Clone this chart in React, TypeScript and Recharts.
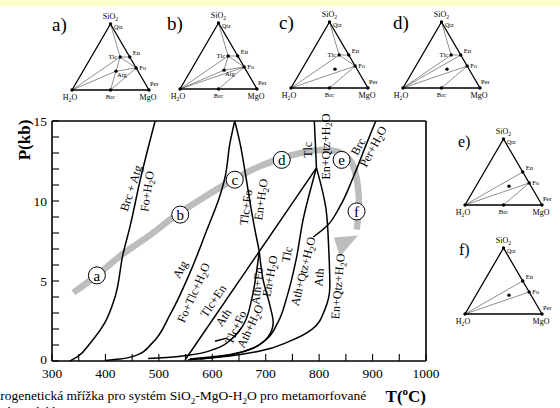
import React from 'react';
import { ComposedChart, Line, Scatter, XAxis, YAxis } from 'recharts';

const SERIF = "'Liberation Serif', 'Times New Roman', serif";

// ---- P-T grid, T in °C, P in kbar ----
const xTicks = [300, 350, 400, 450, 500, 550, 600, 650, 700, 750, 800, 850, 900, 950, 1000];
const xLabelled = [300, 400, 500, 600, 700, 800, 900, 1000];
const yTicks = [0, 1, 2, 3, 4, 5, 6, 7, 8, 9, 10, 11, 12, 13, 14, 15];
const yLabelled = [0, 5, 10, 15];

const pts = (a: number[][]) => a.map(([t, p]) => ({ t, p }));

const brcAtgFo = pts([[493, 15], [465, 11.3], [446, 8.4], [433, 6.7], [418, 4.0], [399, 2.4], [371, 1.1], [349, 0.3], [334, 0]]);
const atgFoTlc = pts([[642, 15], [633, 13.6], [624, 11.5], [614, 10.3], [590, 8.2], [558, 5.5], [521, 2.9], [487, 1.1], [461, 0.4], [427, 0.12], [400, 0.03]]);
const tlcFoEn = pts([[642, 15], [652, 13.6], [662, 11.7], [672, 9.65], [681, 8.0], [688, 6.85]]);
const tlcEnAth = pts([[795, 12.07], [549, 0.06]]);
const tlcEnQtzHi = pts([[791, 15], [795, 12.07]]);
const tlcFoAth = pts([[688, 6.85], [682, 5.4], [674, 3.9], [657, 2.2], [637, 1.4], [605, 0.75], [558, 0.37], [515, 0.22], [480, 0.15]]);
const shortSeg = pts([[627, 1.43], [605, 1.24]]);
const athFoEn = pts([[688, 6.85], [695, 5.1], [708, 3.44], [714, 2.41], [704, 1.49], [680, 0.87], [642, 0.44], [596, 0.19], [555, 0.08]]);
const tlcAthQtz = pts([[795, 12.07], [770, 8.84], [757, 6.35], [740, 4.04], [723, 2.43], [697, 1.24], [661, 0.62], [614, 0.31], [558, 0.12]]);
const athEnQtz = pts([[795, 12.07], [813, 9.46], [818, 6.97], [820, 4.67], [811, 3.24], [787, 1.99], [745, 1.24], [689, 0.62], [633, 0.31], [577, 0.12]]);
const brcPer = pts([[906, 15], [889, 13.6], [864, 11.5], [839, 9.66], [814, 8.42], [789, 7.75]]);

const curves = [brcAtgFo, atgFoTlc, tlcFoEn, tlcEnAth, tlcEnQtzHi, tlcFoAth, shortSeg, athFoEn, tlcAthQtz, athEnQtz, brcPer];

// grey path a -> f
const bandPath = pts([[340, 4.27], [384, 5.31], [433, 6.78], [483, 7.8], [527, 9.04], [577, 10.08], [627, 11.12], [683, 12.15], [745, 12.88], [808, 13.3], [848, 13.0], [864, 12.36], [873, 11.12], [876, 9.46], [870, 8.22]]);
const bandHead = pts([[852, 7.4]]);

const stages = [
  { t: 384, p: 5.35, s: 'a' },
  { t: 540, p: 9.15, s: 'b' },
  { t: 642, p: 11.33, s: 'c' },
  { t: 730, p: 12.57, s: 'd' },
  { t: 842, p: 12.57, s: 'e' },
  { t: 870, p: 9.35, s: 'f' },
];

const curveLabels = [
  { t: 448, p: 10.8, text: 'Brc + Atg', angle: -72 },
  { t: 478, p: 10.6, text: 'Fo+H2O', angle: -82 },
  { t: 663, p: 9.6, text: 'Tlc+Fo', angle: -82 },
  { t: 691, p: 10.1, text: 'En+H2O', angle: -82 },
  { t: 540, p: 5.72, text: 'Atg', angle: -62 },
  { t: 565, p: 4.27, text: 'Fo+Tlc+H2O', angle: -66 },
  { t: 602, p: 3.75, text: 'Tlc+En', angle: -56 },
  { t: 621, p: 2.72, text: 'Ath', angle: -56 },
  { t: 644, p: 2.1, text: 'Tlc+Fo', angle: -65 },
  { t: 671, p: 2.18, text: 'Ath+H2O', angle: -65 },
  { t: 684, p: 4.69, text: 'Ath+Fo', angle: -84 },
  { t: 708, p: 5.31, text: 'En+H2O', angle: -80 },
  { t: 740, p: 6.66, text: 'Tlc', angle: -78 },
  { t: 770, p: 5.6, text: 'Ath+Qtz+H2O', angle: -76 },
  { t: 800, p: 5.23, text: 'Ath', angle: -85 },
  { t: 835, p: 4.67, text: 'En+Qtz+H2O', angle: -85 },
  { t: 779, p: 13.2, text: 'Tlc', angle: -90 },
  { t: 812, p: 13.4, text: 'En+Qtz+H2O', angle: -90 },
  { t: 873, p: 13.4, text: 'Brc', angle: -62 },
  { t: 901, p: 13.4, text: 'Per+H2O', angle: -62 },
];

// ---- ternary sketches: molar SiO2 : MgO : H2O ----
const comp: Record<string, number[]> = {
  Qtz: [1, 0, 0],
  Tlc: [4, 3, 1],
  En: [1, 1, 0],
  Fo: [1, 2, 0],
  Atg: [2, 3, 2],
  Brc: [0, 1, 1],
  Per: [0, 1, 0],
  H2O: [0, 0, 1],
};

const tiesA = [['Qtz', 'Tlc'], ['Tlc', 'En'], ['Tlc', 'Fo'], ['Tlc', 'Atg'], ['Atg', 'Fo'], ['Atg', 'Brc'], ['Brc', 'Fo'], ['H2O', 'Tlc'], ['H2O', 'Atg']];
const tiesB = [['Qtz', 'Tlc'], ['Tlc', 'En'], ['Tlc', 'Fo'], ['Tlc', 'Atg'], ['Atg', 'Fo'], ['H2O', 'Tlc'], ['H2O', 'Atg'], ['H2O', 'Fo'], ['Brc', 'Fo']];
const tiesC = [['Qtz', 'Tlc'], ['Tlc', 'En'], ['Tlc', 'Fo'], ['H2O', 'Tlc'], ['H2O', 'Fo'], ['Brc', 'Fo']];
const tiesD = [['Qtz', 'Tlc'], ['Tlc', 'En'], ['H2O', 'Tlc'], ['H2O', 'En'], ['H2O', 'Fo'], ['Brc', 'Fo']];
const tiesE = [['H2O', 'En'], ['H2O', 'Fo'], ['Brc', 'Fo']];
const tiesF = [['H2O', 'En'], ['H2O', 'Fo']];

const dotsAB = ['Qtz', 'Tlc', 'En', 'Fo', 'Atg', 'Brc', 'Per', 'H2O'];
const dotsE = ['Qtz', 'En', 'Fo', 'Atg', 'Brc', 'Per', 'H2O'];
const dotsF = ['Qtz', 'En', 'Fo', 'Atg', 'Per', 'H2O'];

const labelsAB = ['SiO2', 'Qtz', 'Tlc', 'En', 'Fo', 'Atg', 'Brc', 'Per', 'H2O', 'MgO'];
const labelsCD = ['SiO2', 'Qtz', 'Tlc', 'En', 'Fo', 'Brc', 'Per', 'H2O', 'MgO'];
const labelsE = ['SiO2', 'Qtz', 'En', 'Fo', 'Brc', 'Per', 'H2O', 'MgO'];
const labelsF = ['SiO2', 'Qtz', 'En', 'Fo', 'Per', 'H2O', 'MgO'];

// where each label sits relative to its phase
const labelStyle: Record<string, { at: string; dx: number; dy: number; anchor: string; fs: number }> = {
  SiO2: { at: 'Qtz', dx: 0, dy: -5, anchor: 'middle', fs: 8 },
  Qtz: { at: 'Qtz', dx: 3.5, dy: 4.5, anchor: 'start', fs: 6 },
  Tlc: { at: 'Tlc', dx: -3, dy: 2, anchor: 'end', fs: 6.5 },
  En: { at: 'En', dx: 3, dy: -2, anchor: 'start', fs: 6.5 },
  Fo: { at: 'Fo', dx: 3, dy: 2, anchor: 'start', fs: 6.5 },
  Atg: { at: 'Atg', dx: 1, dy: 6, anchor: 'start', fs: 6.5 },
  Brc: { at: 'Brc', dx: 0, dy: 9, anchor: 'middle', fs: 6.5 },
  Per: { at: 'Per', dx: 1, dy: -4, anchor: 'start', fs: 6.5 },
  H2O: { at: 'H2O', dx: -2, dy: 10, anchor: 'middle', fs: 8 },
  MgO: { at: 'Per', dx: -1, dy: 10, anchor: 'middle', fs: 8 },
};

const panels = [
  { id: 'a)', left: 56, top: 9, ties: tiesA, dots: dotsAB, labels: labelsAB },
  { id: 'b)', left: 164, top: 8, ties: tiesB, dots: dotsAB, labels: labelsAB },
  { id: 'c)', left: 275, top: 7, ties: tiesC, dots: dotsAB, labels: labelsCD },
  { id: 'd)', left: 387, top: 7, ties: tiesD, dots: dotsAB, labels: labelsCD },
  { id: 'e)', left: 449, top: 124, ties: tiesE, dots: dotsE, labels: labelsE },
  { id: 'f)', left: 449, top: 233, ties: tiesF, dots: dotsF, labels: labelsF },
];

const SQ3 = Math.sqrt(3) / 2;
function place(name: string) {
  const [s, m, w] = comp[name];
  const tot = s + m + w;
  return { x: (m + s / 2) / tot, y: (s / tot) * SQ3 };
}

// digits become subscripts (H2O, SiO2)
function chem(s: string, fs: number) {
  const parts = s.split(/(\d)/).filter(Boolean);
  let down = false;
  return parts.map((part, i) => {
    if (/^\d$/.test(part)) {
      down = true;
      return <tspan key={i} dy={fs * 0.3} fontSize={fs * 0.72}>{part}</tspan>;
    }
    const dy = down ? -fs * 0.3 : 0;
    down = false;
    return <tspan key={i} dy={dy}>{part}</tspan>;
  });
}

const tickStroke = { stroke: '#000', strokeWidth: 1.1 };

function BottomTick({ x, y, payload }: any) {
  return (
    <g>
      <line x1={x} y1={y} x2={x} y2={y - 7} {...tickStroke} />
      {xLabelled.includes(payload.value) && (
        <text x={x} y={y + 17} textAnchor="middle" fontSize={13.5} fontFamily={SERIF} fill="#000">
          {payload.value}
        </text>
      )}
    </g>
  );
}
function TopTick({ x, y }: any) {
  return <line x1={x} y1={y} x2={x} y2={y + 7} {...tickStroke} />;
}
function LeftTick({ x, y, payload }: any) {
  return (
    <g>
      <line x1={x} y1={y} x2={x + 7} y2={y} {...tickStroke} />
      {yLabelled.includes(payload.value) && (
        <text x={x - 5} y={y + (payload.value === 0 ? 2.5 : 4.5)} textAnchor="end" fontSize={13.5} fontFamily={SERIF} fill="#000">
          {payload.value}
        </text>
      )}
    </g>
  );
}
function RightTick({ x, y }: any) {
  return <line x1={x} y1={y} x2={x - 7} y2={y} {...tickStroke} />;
}

function CurveLabel({ cx, cy, payload }: any) {
  return (
    <text
      x={cx}
      y={cy}
      transform={`rotate(${payload.angle} ${cx} ${cy})`}
      textAnchor="middle"
      dominantBaseline="central"
      fontSize={12}
      fontFamily={SERIF}
      fill="#000"
    >
      {chem(payload.text, 12)}
    </text>
  );
}

function StageMark({ cx, cy, payload }: any) {
  return (
    <g>
      <circle cx={cx} cy={cy} r={8.5} fill="#fff" stroke="#000" strokeWidth={1} />
      <text x={cx} y={cy + 0.5} textAnchor="middle" dominantBaseline="central" fontSize={15} fontFamily={SERIF} fill="#000">
        {payload.s}
      </text>
    </g>
  );
}

function ArrowHead({ cx, cy }: any) {
  return <polygon points={`${cx - 7},${cy + 14} ${cx - 13},${cy - 5} ${cx + 11},${cy - 7}`} fill="#bdbdbd" />;
}

const AX = { stroke: '#000', strokeWidth: 1.6 };

function Ternary({ left, top, ties, dots, labels }: any) {
  const outline = [place('H2O'), place('Per'), place('Qtz'), place('H2O')];
  const dotData = dots.map((d: string) => place(d));
  const labelData = labels.map((l: string) => ({ ...place(labelStyle[l].at), name: l }));
  return (
    <div style={{ position: 'absolute', left, top }}>
      <ComposedChart width={110} height={95} margin={{ top: 15, right: 17, bottom: 14, left: 16 }}>
        <XAxis type="number" dataKey="x" domain={[0, 1]} hide />
        <YAxis type="number" dataKey="y" domain={[0, SQ3]} hide />
        {ties.map(([a, b]: string[], i: number) => (
          <Line
            key={i}
            data={[place(a), place(b)]}
            dataKey="y"
            type="linear"
            stroke="#444"
            strokeWidth={0.6}
            dot={false}
            isAnimationActive={false}
          />
        ))}
        <Line data={outline} dataKey="y" type="linear" stroke="#000" strokeWidth={1.3} dot={false} isAnimationActive={false} />
        <Scatter
          data={dotData}
          isAnimationActive={false}
          shape={(p: any) => <circle cx={p.cx} cy={p.cy} r={1.7} fill="#000" />}
        />
        <Scatter
          data={labelData}
          isAnimationActive={false}
          shape={(p: any) => {
            const st = labelStyle[p.payload.name];
            return (
              <text x={p.cx + st.dx} y={p.cy + st.dy} textAnchor={st.anchor} fontSize={st.fs} fontFamily={SERIF} fill="#000">
                {chem(p.payload.name, st.fs)}
              </text>
            );
          }}
        />
      </ComposedChart>
    </div>
  );
}

const letterPos: Record<string, { x: number; base: number; fs: number }> = {
  'a)': { x: 52, base: 31, fs: 19 },
  'b)': { x: 167, base: 30, fs: 19 },
  'c)': { x: 279, base: 29, fs: 19 },
  'd)': { x: 393, base: 29, fs: 19 },
  'e)': { x: 458, base: 147, fs: 16 },
  'f)': { x: 459, base: 255, fs: 16 },
};

function Txt({ x, base, fs, bold, right, children }: any) {
  const style: any = {
    position: 'absolute',
    top: base - 0.837 * fs,
    fontSize: fs,
    lineHeight: 1,
    fontFamily: SERIF,
    fontWeight: bold ? 'bold' : 'normal',
    whiteSpace: 'nowrap',
    color: '#000',
  };
  if (right !== undefined) style.right = right;
  else style.left = x;
  return <div style={style}>{children}</div>;
}

export default function App() {
  return (
    <div style={{ position: 'absolute', left: 0, top: 0, width: 560, height: 408, overflow: 'hidden', background: '#fff' }}>
      <div style={{ position: 'absolute', left: 0, top: 0, width: 560, height: 6, background: '#fefec8' }} />
      <div style={{ position: 'absolute', left: 0, top: 0 }}>
        <ComposedChart width={560} height={408} margin={{ top: 120, right: 133, bottom: 17, left: 12 }}>
          <XAxis
            type="number"
            dataKey="t"
            domain={[300, 1000]}
            ticks={xTicks}
            interval={0}
            tickSize={0}
            tickMargin={0}
            tickLine={false}
            axisLine={AX}
            height={30}
            tick={(p: any) => <BottomTick {...p} />}
          />
          <XAxis
            xAxisId="top"
            orientation="top"
            type="number"
            dataKey="t"
            domain={[300, 1000]}
            ticks={xTicks}
            interval={0}
            tickSize={0}
            tickMargin={0}
            tickLine={false}
            axisLine={AX}
            height={1}
            tick={(p: any) => <TopTick {...p} />}
          />
          <YAxis
            type="number"
            dataKey="p"
            domain={[0, 15]}
            ticks={yTicks}
            interval={0}
            tickSize={0}
            tickMargin={0}
            tickLine={false}
            axisLine={AX}
            width={40}
            tick={(p: any) => <LeftTick {...p} />}
          />
          <YAxis
            yAxisId="right"
            orientation="right"
            type="number"
            dataKey="p"
            domain={[0, 15]}
            ticks={yTicks}
            interval={0}
            tickSize={0}
            tickMargin={0}
            tickLine={false}
            axisLine={AX}
            width={1}
            tick={(p: any) => <RightTick {...p} />}
          />
          <Line data={bandPath} dataKey="p" type="basis" stroke="#bdbdbd" strokeWidth={6.5} dot={false} isAnimationActive={false} />
          <Scatter data={bandHead} shape={(p: any) => <ArrowHead {...p} />} isAnimationActive={false} />
          {curves.map((c, i) => (
            <Line
              key={i}
              data={c}
              dataKey="p"
              type={c.length > 2 ? 'monotoneY' : 'linear'}
              stroke="#000"
              strokeWidth={1.5}
              dot={false}
              isAnimationActive={false}
            />
          ))}
          <Scatter data={curveLabels} shape={(p: any) => <CurveLabel {...p} />} isAnimationActive={false} />
          <Scatter data={stages} shape={(p: any) => <StageMark {...p} />} isAnimationActive={false} />
        </ComposedChart>
      </div>

      {panels.map((pn) => (
        <Ternary key={pn.id} {...pn} />
      ))}
      {panels.map((pn) => (
        <Txt key={pn.id} {...letterPos[pn.id]}>
          {pn.id}
        </Txt>
      ))}

      <div
        style={{
          position: 'absolute',
          left: 24,
          top: 140,
          transform: 'translate(-50%, -50%) rotate(-90deg)',
          fontSize: 17,
          fontWeight: 'bold',
          fontFamily: SERIF,
          whiteSpace: 'nowrap',
          lineHeight: 1,
        }}
      >
        P(kb)
      </div>
      <Txt right={134} base={400} fs={17} bold>
        T(<sup style={{ fontSize: 11 }}>o</sup>C)
      </Txt>
      <Txt x={-17} base={400} fs={13.5}>
        Petrogenetická mřížka pro systém SiO<sub style={{ fontSize: 9 }}>2</sub>-MgO-H<sub style={{ fontSize: 9 }}>2</sub>O pro metamorfované
      </Txt>
      <Txt x={-17} base={416} fs={13.5}>
        ultrabazické horniny
      </Txt>
    </div>
  );
}
